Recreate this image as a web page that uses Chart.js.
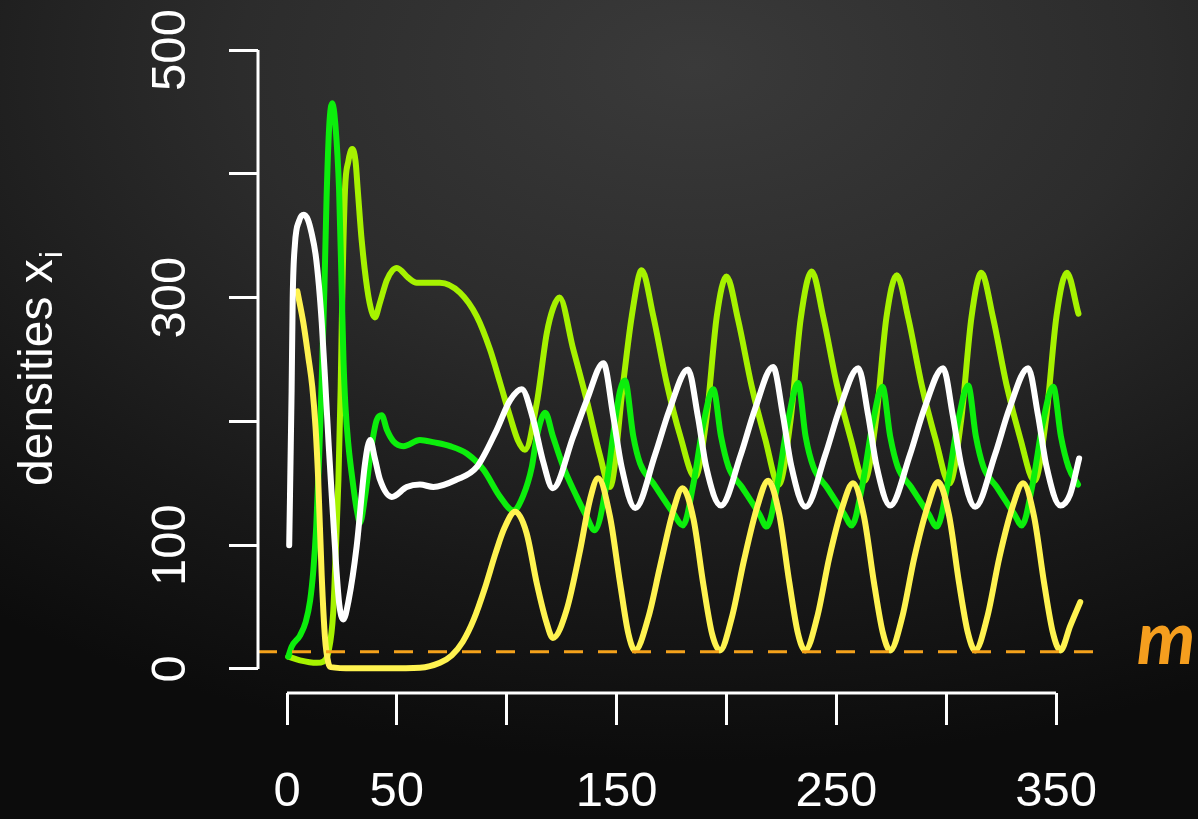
<!DOCTYPE html>
<html>
<head>
<meta charset="utf-8">
<title>densities</title>
<script src="https://cdn.jsdelivr.net/npm/chart.js@4.4.1/dist/chart.umd.min.js"></script>
<style>
  html, body { margin: 0; padding: 0; }
  body {
    width: 1198px; height: 819px; overflow: hidden;
    background: radial-gradient(ellipse 95% 85% at 58% 8%, #3a3a3a 0%, #2c2c2c 40%, #181818 75%, #0c0c0c 100%);
  }
  canvas { display: block; }
</style>
</head>
<body>
<canvas id="chart" width="1198" height="819"></canvas>
<script>
// tick labels (R style: some labels are dropped because they would overlap)
const xTicks = [0, 50, 100, 150, 200, 250, 300, 350];
const xLabels = ["0", "50", "", "150", "", "250", "", "350"];
const yTicks = [0, 100, 200, 300, 400, 500];
const yLabels = ["0", "100", "", "300", "", "500"];

// mortality threshold m (dashed line)
const mLevel = 14;

// white species
const whiteT = [1, 2.1, 2.6, 3.6, 5.5, 7.7, 9.5, 11.2, 13, 14.5, 15.8, 17.3, 19, 21, 22.5, 23.8, 25.6, 28, 31.7, 35.5, 37.8,
  40, 42.3, 47.7, 54.5, 60.5, 66.6, 77.2, 86.3, 95.4, 101.5, 106.8, 112.1, 116.5, 121, 130.3, 136.4, 144, 148.5, 152.3, 158.5,
  167.5, 174, 182.5, 187, 190.8, 197.5, 206.5, 213, 221.2, 225.7, 229.5, 236, 245, 251.5, 260, 264.5, 268.3, 274.5,
  283.5, 290, 298.6, 303, 306.9, 313.2, 322.2, 328.7, 337.3, 341.8, 345.6, 352, 356.4, 360.5];
const whiteV = [100, 225, 300, 343, 362, 367, 363, 352, 335, 310, 280, 235, 180, 122, 80, 52, 40, 55, 99, 166, 185,
  170, 153, 139, 147, 149, 147, 153, 163, 193, 217, 226, 201, 168, 146, 188, 217, 247, 204, 163, 130,
  173, 209, 242, 204, 163, 132, 173, 210, 244, 205, 164, 131, 173, 210, 243, 205, 164, 132,
  173, 210, 243, 205, 164, 131, 173, 210, 243, 205, 164, 132, 141, 170];

// bright green species
const greenT = [0.6, 2.1, 5.9, 8.5, 10.5, 12, 13.3, 14.6, 15.8, 17, 18, 19.2, 20.6, 22, 23.7, 24.9, 25.7, 26.6, 28, 30, 31.8, 33.2,
  35.5, 38.5, 40.8, 43.1, 45.5, 48.4, 53, 60.5, 67, 74.2, 81.8, 89.4, 97, 103, 107.5, 111.4, 113.7, 117.5, 121, 125.8,
  131.9, 136.4, 140, 145.5, 148.5, 151.6, 153.8, 157.6, 160.7, 166.7, 175.8, 180.2, 185, 189.5, 194, 197.5, 201, 207, 215, 218.3,
  223.3, 227.8, 232.6, 236, 239.6, 245.6, 253.6, 257, 262, 266.5, 271, 274.5, 278, 284, 292, 295.7,
  300.7, 305.2, 310, 313.5, 317, 323, 331, 334.4, 339.4, 343.9, 348.7, 352.2, 355.7, 360];
const greenV = [10, 18, 27, 38, 55, 80, 115, 170, 233, 306, 380, 438, 457, 440, 387, 306, 250, 212, 180, 150, 128, 118,
  139, 180, 201, 205, 193, 184, 180, 185, 183, 180, 174, 161, 139, 128, 140, 163, 188, 207, 188, 163,
  139, 123, 112, 150, 190, 225, 233, 188, 166, 150, 126, 116, 150, 198, 226, 188, 163, 147, 125, 115,
  150, 198, 231, 188, 163, 147, 125, 116, 150, 198, 228, 188, 163, 147, 125, 115,
  150, 198, 229, 188, 163, 147, 125, 116, 150, 198, 228, 188, 163, 149];

// yellow-green species
const ygT = [0.6, 5.9, 13.5, 16.5, 19, 21, 22.3, 23.4, 24.4, 25.2, 26.4, 27.9, 29.7, 31.2, 32.2, 34, 36.6, 38.5, 40, 42.3,
  45.4, 48, 50, 55.2, 59, 69.6, 78.7, 86.3, 92.4, 97, 101.5, 105, 108.3, 113.7, 118.2, 121.2, 124, 130.3, 136.4, 142.5,
  147, 153, 156.9, 161.4, 166.7, 172.8, 179, 185.7, 191, 195.6, 200, 205.3, 211.4, 217.6, 223.8, 229.1, 233.8, 238.8,
  244.1, 250.2, 256.4, 262.8, 268.1, 272.8, 277.5, 282.8, 288.9, 295.1, 301.5, 306.8, 311.5, 316,
  321.3, 327.4, 333.6, 340.2, 345.5, 350.2, 354.9, 360.2];
const ygV = [10, 7, 5, 6, 15, 45, 100, 153, 225, 306, 387, 410, 420, 410, 387, 346, 306, 289, 284, 296,
  314, 322, 324, 316, 312, 312, 304, 285, 258, 231, 204, 185, 177, 215, 271, 292, 300, 258, 217, 172,
  147, 231, 285, 322, 285, 231, 188, 155, 204, 285, 317, 282, 229, 186, 149, 200, 283, 321,
  284, 230, 187, 152, 202, 284, 318, 283, 229, 186, 150, 201, 284, 320,
  284, 230, 187, 152, 203, 285, 320, 287];

// yellow species
const yelT = [4.7, 7.4, 9.7, 11.5, 13, 14.2, 15.8, 17.3, 18.8, 20, 30, 45, 60.5, 69.6, 75, 80, 85, 90, 95, 99, 103.8,
  109, 113.7, 118.2, 121, 127.3, 133.4, 137.9, 141.6, 147, 151.6, 155.3, 158.4, 164.5, 169.8, 175.8, 180,
  185, 189.5, 193.5, 197, 202.5, 208, 214, 219, 224, 228.6, 232.5, 235.8, 241.3, 246.8, 252.8, 257.6,
  262.6, 267.2, 271.2, 274.5, 280, 285.5, 291.5, 296.3, 301.3, 305.9, 309.9, 313.2, 318.7, 324.2, 330.2, 335,
  340, 344.6, 348.6, 352, 356.5, 361];
const yelV = [305, 280, 252, 228, 195, 153, 75, 25, 5, 1.5, 0.5, 0.5, 1, 5, 11, 22, 40, 65, 94, 114, 127,
  110, 69, 37, 25, 48, 96, 137, 154, 123, 69, 29, 15, 42, 83, 128, 146,
  121, 68, 28, 15, 42, 88, 131, 152, 125, 70, 29, 15, 42, 90, 131, 150,
  123, 69, 29, 15, 42, 90, 131, 151, 124, 69, 29, 15, 42, 90, 131, 150,
  123, 69, 29, 15, 35, 54];

const xMin = -13.2, xMax = 370;

function pts(ts, vs) {
  return ts.map((t, i) => ({ x: t, y: vs[i] }));
}

function series(label, ts, vs, color, order) {
  return {
    label: label,
    data: pts(ts, vs),
    borderColor: color,
    borderWidth: 6,
    pointRadius: 0,
    cubicInterpolationMode: "monotone",
    borderCapStyle: "round",
    borderJoinStyle: "round",
    fill: false,
    order: order
  };
}

const FONT = '"Liberation Sans", Arial, Helvetica, sans-serif';

// R-like axes: axis lines only between first and last tick, labels and titles
const rAxes = {
  id: "rAxes",
  afterDraw(chart) {
    const { ctx, chartArea, scales } = chart;
    const x = scales.x, y = scales.y;
    ctx.save();
    ctx.strokeStyle = "#ffffff";
    ctx.lineWidth = 3;
    ctx.beginPath();
    ctx.moveTo(chartArea.left, y.getPixelForValue(yTicks[0]));
    ctx.lineTo(chartArea.left, y.getPixelForValue(yTicks[yTicks.length - 1]));
    ctx.moveTo(x.getPixelForValue(xTicks[0]), chartArea.bottom);
    ctx.lineTo(x.getPixelForValue(xTicks[xTicks.length - 1]), chartArea.bottom);
    ctx.stroke();

    ctx.fillStyle = "#ffffff";
    ctx.font = "49px " + FONT;
    ctx.textAlign = "center";
    ctx.textBaseline = "alphabetic";
    xTicks.forEach((v, i) => {
      if (xLabels[i]) ctx.fillText(xLabels[i], x.getPixelForValue(v), 806);
    });
    yTicks.forEach((v, i) => {
      if (!yLabels[i]) return;
      ctx.save();
      ctx.translate(185, y.getPixelForValue(v));
      ctx.rotate(-Math.PI / 2);
      ctx.fillText(yLabels[i], 0, 0);
      ctx.restore();
    });

    // y title: densities x_i
    ctx.save();
    ctx.translate(52, 486);
    ctx.rotate(-Math.PI / 2);
    ctx.textAlign = "left";
    ctx.font = "48px " + FONT;
    const main = "densities x";
    ctx.fillText(main, 0, 0);
    const w = ctx.measureText(main).width;
    ctx.font = "32px " + FONT;
    ctx.fillText("i", w + 1, 10);
    ctx.restore();

    // threshold label
    ctx.fillStyle = "#f59e1e";
    ctx.font = 'bold italic 74px Lato, "Open Sans", sans-serif';
    ctx.textAlign = "center";
    ctx.fillText("m", 1166, 664);
    ctx.restore();
  }
};

new Chart(document.getElementById("chart"), {
  type: "line",
  data: {
    datasets: [
      {
        label: "m",
        data: [{ x: xMin, y: mLevel }, { x: xMax, y: mLevel }],
        borderColor: "#f5a21b",
        borderWidth: 3,
        borderDash: [19, 15],
        pointRadius: 0,
        order: 0
      },
      series("white", whiteT, whiteV, "#ffffff", 1),
      series("yellow", yelT, yelV, "#fff350", 2),
      series("green", greenT, greenV, "#0cee0c", 3),
      series("yellowgreen", ygT, ygV, "#a6f200", 4)
    ]
  },
  options: {
    responsive: false,
    animation: false,
    devicePixelRatio: 1,
    layout: { autoPadding: false, padding: { left: 229, right: 98, top: 50, bottom: 94 } },
    scales: {
      x: {
        type: "linear",
        min: xMin,
        max: xMax,
        afterBuildTicks: s => { s.ticks = xTicks.map(v => ({ value: v })); },
        afterFit: s => { s.height = 32; },
        ticks: { display: false },
        grid: { drawOnChartArea: false, drawTicks: true, tickLength: 32, color: "#ffffff", lineWidth: 3 },
        border: { display: false }
      },
      y: {
        type: "linear",
        min: -19.4,
        max: 500,
        afterBuildTicks: s => { s.ticks = yTicks.map(v => ({ value: v })); },
        afterFit: s => { s.width = 29; },
        ticks: { display: false },
        grid: { drawOnChartArea: false, drawTicks: true, tickLength: 29, color: "#ffffff", lineWidth: 3 },
        border: { display: false }
      }
    },
    plugins: { legend: { display: false }, tooltip: { enabled: false } }
  },
  plugins: [rAxes]
});
</script>
</body>
</html>
